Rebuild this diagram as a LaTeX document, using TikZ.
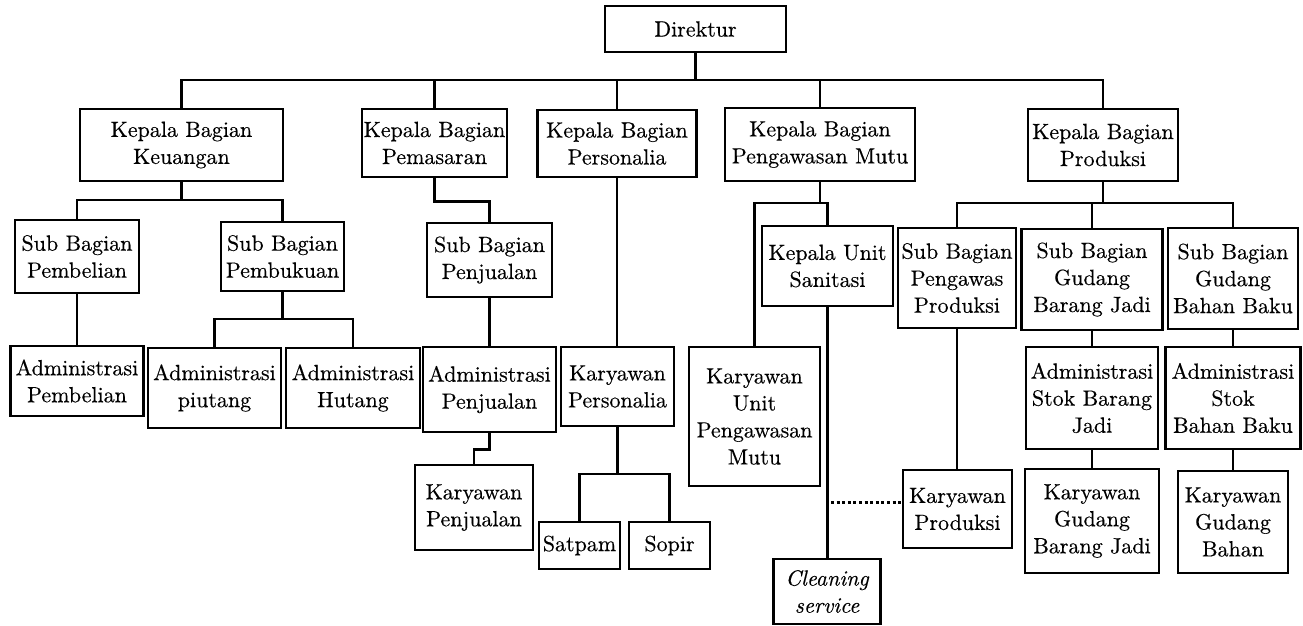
\documentclass[tikz,border=0pt]{standalone}
\usepackage{fontspec}
\setmainfont{lmroman10-regular.otf}[FakeBold=0.35,ItalicFont=lmroman10-italic.otf,ItalicFeatures={FakeBold=0.35}]
\begin{document}
\begin{tikzpicture}[x=1pt,y=-1pt,
  box/.style={draw,line width=2.8pt,inner sep=0pt,align=center,
    font=\fontsize{22}{27}\selectfont},
  conn/.style={line width=2.6pt},
  dotconn/.style={line width=3pt,dash pattern=on 3pt off 2.6pt}]
\useasboundingbox (0,0) rectangle (1303,626);
% level 0 and 1
\node[box,minimum width=181pt,minimum height=46pt] (dir) at (695.5,29) {Direktur};
\node[box,minimum width=203pt,minimum height=72pt] (keu) at (181.5,145) {Kepala Bagian\\Keuangan};
\node[box,minimum width=145pt,minimum height=68pt] (pem) at (434.5,143) {Kepala Bagian\\Pemasaran};
\node[box,minimum width=159pt,minimum height=67pt] (per) at (617,143.5) {Kepala Bagian\\Personalia};
\node[box,minimum width=190pt,minimum height=73pt] (mutu) at (820,144.5) {Kepala Bagian\\Pengawasan Mutu};
\node[box,minimum width=150pt,minimum height=72pt] (prod) at (1103,145) {Kepala Bagian\\Produksi};
% keuangan
\node[box,minimum width=124pt,minimum height=73pt] (sbbeli) at (77,256.5) {Sub Bagian\\Pembelian};
\node[box,minimum width=123pt,minimum height=69pt] (sbbuku) at (282.5,256.5) {Sub Bagian\\Pembukuan};
\node[box,minimum width=133pt,minimum height=70pt] (admbeli) at (77,381) {Administrasi\\Pembelian};
\node[box,minimum width=133pt,minimum height=80pt] (admpiut) at (214.5,388) {Administrasi\\piutang};
\node[box,minimum width=134pt,minimum height=80pt] (admhut) at (353,388) {Administrasi\\Hutang};
% pemasaran
\node[box,minimum width=125pt,minimum height=74pt] (sbjual) at (489.5,260) {Sub Bagian\\Penjualan};
\node[box,minimum width=133pt,minimum height=85pt] (admjual) at (489.5,389.5) {Administrasi\\Penjualan};
\node[box,minimum width=118pt,minimum height=85pt] (karjual) at (474,507.5) {Karyawan\\Penjualan};
% personalia
\node[box,minimum width=113pt,minimum height=79pt] (karper) at (617.5,386.5) {Karyawan\\Personalia};
\node[box,minimum width=81pt,minimum height=47pt] (satpam) at (579.5,545.5) {Satpam};
\node[box,minimum width=81pt,minimum height=47pt] (sopir) at (669.5,545.5) {Sopir};
% pengawasan mutu
\node[box,minimum width=131pt,minimum height=80pt] (sanit) at (827.5,266) {Kepala Unit\\Sanitasi};
\node[box,minimum width=131pt,minimum height=139pt] (karmutu) at (754.5,416.5) {Karyawan\\Unit\\Pengawasan\\Mutu};
\node[box,minimum width=107pt,minimum height=65pt] (clean) at (827,591.5) {\itshape Cleaning\\\itshape service};
% produksi
\node[box,minimum width=118pt,minimum height=100pt] (sbawas) at (957,278) {Sub Bagian\\Pengawas\\Produksi};
\node[box,minimum width=141pt,minimum height=101pt] (sbgbj) at (1092,279.5) {Sub Bagian\\Gudang\\Barang Jadi};
\node[box,minimum width=130pt,minimum height=101pt] (sbgbb) at (1233,278.5) {Sub Bagian\\Gudang\\Bahan Baku};
\node[box,minimum width=109pt,minimum height=78pt] (karprod) at (957.5,509) {Karyawan\\Produksi};
\node[box,minimum width=132pt,minimum height=102pt] (admsbj) at (1092,398) {Administrasi\\Stok Barang\\Jadi};
\node[box,minimum width=135pt,minimum height=102pt] (admsbb) at (1233,398) {Administrasi\\Stok\\Bahan Baku};
\node[box,minimum width=134pt,minimum height=104pt] (kargbj) at (1092,521) {Karyawan\\Gudang\\Barang Jadi};
\node[box,minimum width=110pt,minimum height=102pt] (kargbb) at (1233,522) {Karyawan\\Gudang\\Bahan};
% bus coordinates
\coordinate (b0) at (695.5,80);
\coordinate (k1) at (181.5,200);
\coordinate (k2) at (282.5,319);
\coordinate (p1) at (617.5,474);
\coordinate (m1) at (820,203);
\coordinate (r1) at (1103,203);
\coordinate (dotL) at (831,502);
% connectors
\draw[conn] (dir.south) -- (b0);
\draw[conn] (keu.north) -- (keu.north |- b0) -- (prod.north |- b0) -- (prod.north);
\draw[conn] (pem.north) -- (pem.north |- b0);
\draw[conn] (per.north) -- (per.north |- b0);
\draw[conn] (mutu.north) -- (mutu.north |- b0);
% keuangan
\draw[conn] (keu.south) -- (k1);
\draw[conn] (sbbeli.north) -- (sbbeli.north |- k1) -- (sbbuku.north |- k1) -- (sbbuku.north);
\draw[conn] (sbbeli.south) -- (admbeli.north);
\draw[conn] (sbbuku.south) -- (k2);
\draw[conn] (admpiut.north) -- (admpiut.north |- k2) -- (admhut.north |- k2) -- (admhut.north);
% pemasaran
\draw[conn] (pem.south) -- ++(0,23) -| (sbjual.north);
\draw[conn] (sbjual.south) -- (admjual.north);
\draw[conn] (admjual.south) -- ++(0,16) -| (karjual.north);
% personalia
\draw[conn] (per.south) -- (per.south |- karper.north);
\draw[conn] (karper.south) -- (p1);
\draw[conn] (satpam.north) -- (satpam.north |- p1) -- (sopir.north |- p1) -- (sopir.north);
% pengawasan mutu
\draw[conn] (mutu.south) -- (m1);
\draw[conn] (karmutu.north) -- (karmutu.north |- m1) -- (sanit.north |- m1) -- (sanit.north);
\draw[conn] (sanit.south) -- (sanit.south |- clean.north);
\draw[dotconn] (dotL) -- (dotL -| karprod.west);
% produksi
\draw[conn] (prod.south) -- (r1);
\draw[conn] (sbawas.north) -- (sbawas.north |- r1) -- (sbgbb.north |- r1) -- (sbgbb.north);
\draw[conn] (sbgbj.north) -- (sbgbj.north |- r1);
\draw[conn] (sbawas.south) -- (sbawas.south |- karprod.north);
\draw[conn] (sbgbj.south) -- (admsbj.north);
\draw[conn] (admsbj.south) -- (kargbj.north);
\draw[conn] (sbgbb.south) -- (admsbb.north);
\draw[conn] (admsbb.south) -- (kargbb.north);
\end{tikzpicture}
\end{document}
